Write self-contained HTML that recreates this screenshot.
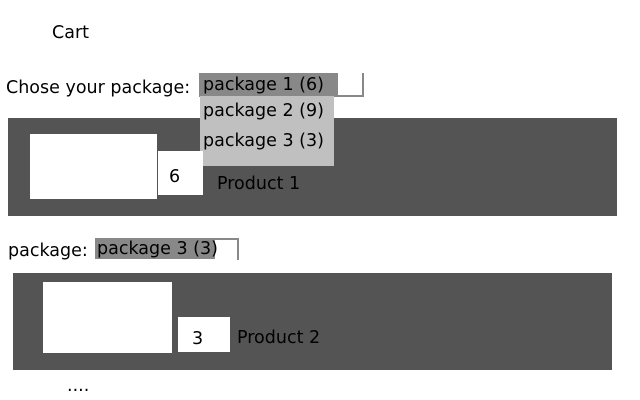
<!DOCTYPE html>
<html><head><meta charset="utf-8"><style>
body{margin:0;width:640px;height:400px;background:#fff;position:relative;overflow:hidden;font-family:"DejaVu Sans","Liberation Sans",sans-serif;font-size:17.5px;color:#000}
div{position:absolute;box-sizing:border-box}
.t{line-height:20px;white-space:nowrap}
</style></head><body>
<div class="t" style="left:52px;top:23px">Cart</div>
<div class="t" style="left:6px;top:78px">Chose your package:</div>
<div style="left:8px;top:118px;width:609px;height:98px;background:#545454"></div>
<div style="left:199px;top:73px;width:165px;height:24px;border-right:2px solid #888;border-bottom:2px solid #888;background:#fff"></div>
<div style="left:199px;top:73px;width:139px;height:23px;background:#888"></div>
<div class="t" style="left:203px;top:75px">package 1 (6)</div>
<div style="left:200px;top:96px;width:134px;height:70px;background:#c0c0c0"></div>
<div class="t" style="left:203px;top:101px">package 2 (9)</div>
<div class="t" style="left:203px;top:131px">package 3 (3)</div>
<div style="left:30px;top:134px;width:127px;height:65px;background:#fff"></div>
<div style="left:158px;top:151px;width:45px;height:44px;background:#fff"></div>
<div class="t" style="left:169px;top:167px">6</div>
<div class="t" style="left:217px;top:174px;color:#000">Product 1</div>
<div class="t" style="left:8px;top:241px">package:</div>
<div style="left:95px;top:238px;width:144px;height:22px;border-right:2px solid #888;border-top:2px solid #888;background:#fff"></div>
<div style="left:95px;top:238px;width:120px;height:21px;background:#888"></div>
<div class="t" style="left:97px;top:239px">package 3 (3)</div>
<div style="left:13px;top:273px;width:599px;height:97px;background:#545454"></div>
<div style="left:43px;top:282px;width:129px;height:71px;background:#fff"></div>
<div style="left:178px;top:317px;width:52px;height:35px;background:#fff"></div>
<div class="t" style="left:192px;top:329px">3</div>
<div class="t" style="left:237px;top:328px">Product 2</div>
<div class="t" style="left:67px;top:376px">....</div>
</body></html>
